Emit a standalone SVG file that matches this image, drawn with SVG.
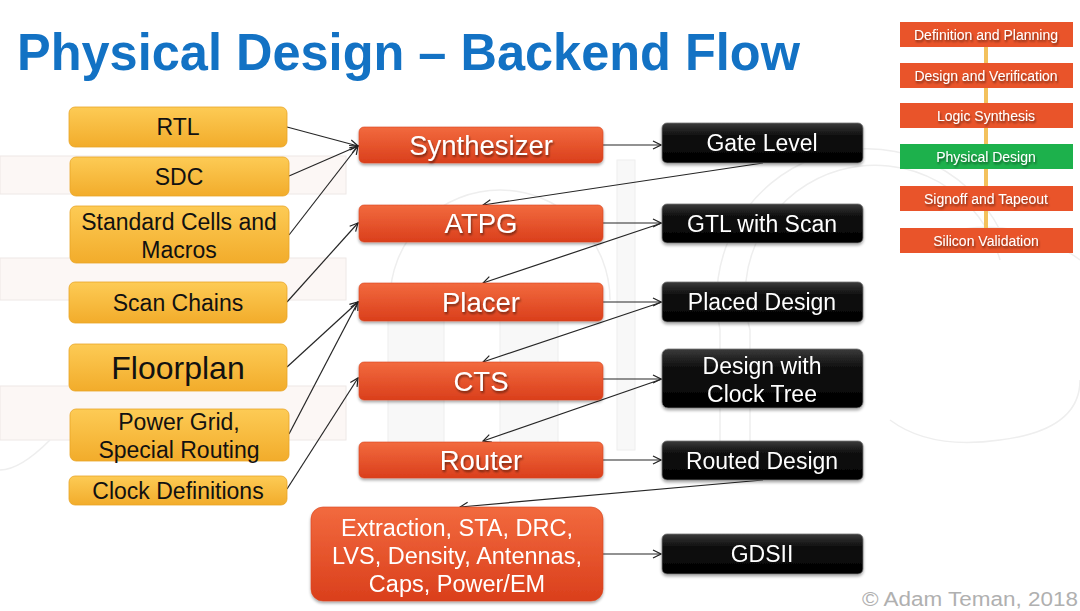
<svg xmlns="http://www.w3.org/2000/svg" width="1080" height="611" viewBox="0 0 1080 611">
<defs>
  <linearGradient id="gY" x1="0" y1="0" x2="0" y2="1">
    <stop offset="0" stop-color="#FDCB55"/>
    <stop offset="1" stop-color="#F2AC2B"/>
  </linearGradient>
  <linearGradient id="gR" x1="0" y1="0" x2="0" y2="1">
    <stop offset="0" stop-color="#F26A3E"/>
    <stop offset="1" stop-color="#DA3F1C"/>
  </linearGradient>
  <linearGradient id="gK" x1="0" y1="0" x2="0" y2="1">
    <stop offset="0" stop-color="#3a3a3a"/>
    <stop offset="0.3" stop-color="#111"/>
    <stop offset="1" stop-color="#000"/>
  </linearGradient>
  <filter id="sh" x="-10%" y="-20%" width="120%" height="150%">
    <feGaussianBlur in="SourceAlpha" stdDeviation="1.5"/>
    <feOffset dx="0" dy="2" result="b"/>
    <feComponentTransfer><feFuncA type="linear" slope="0.35"/></feComponentTransfer>
    <feMerge><feMergeNode/><feMergeNode in="SourceGraphic"/></feMerge>
  </filter>
  <filter id="ts" x="-10%" y="-20%" width="120%" height="150%">
    <feGaussianBlur in="SourceAlpha" stdDeviation="0.8"/>
    <feOffset dx="1" dy="1.5"/>
    <feComponentTransfer><feFuncA type="linear" slope="0.5"/></feComponentTransfer>
    <feMerge><feMergeNode/><feMergeNode in="SourceGraphic"/></feMerge>
  </filter>
  <marker id="ar" markerWidth="10" markerHeight="10" refX="9" refY="5" orient="auto" markerUnits="userSpaceOnUse">
    <path d="M1,1 L9,5 L1,9" fill="none" stroke="#222" stroke-width="1.2"/>
  </marker>
</defs>
<style>
  .t{font-family:"Liberation Sans",Arial,sans-serif;text-anchor:middle}
  .y{fill:url(#gY);stroke:#E9A526;stroke-width:0.8}
  .r{fill:url(#gR);stroke:#D8441F;stroke-width:0.6}
  .k{fill:url(#gK);stroke:#777;stroke-width:0.8}
  .ty{fill:#111;font-size:23px}
  .tf{fill:#111;font-size:32px}
  .tr{fill:#fff;font-size:27.5px}
  .tk{fill:#fff;font-size:23px}
  .tx{fill:#fff;font-size:23.5px}
  .sr{fill:#E9542A}
  .sg{fill:#1DB14C}
  .ts{fill:#fff;font-size:14px}
  .c{fill:none;stroke:#262626;stroke-width:1.2;marker-end:url(#ar)}
  .w{fill:#fcf7f5;stroke:#eee8e6;stroke-width:1}
  .wg{fill:#f8f8f8;stroke:#eeeeee;stroke-width:1}
  .wa{fill:none;stroke:#eeeeee;stroke-width:1.5}
</style>
<rect width="1080" height="611" fill="#fff"/>

<g id="watermark">
  <rect class="w" x="0" y="156" width="346" height="38"/>
  <rect class="w" x="0" y="258" width="346" height="42"/>
  <rect class="w" x="0" y="386" width="346" height="54"/>
  <path class="wa" d="M0,470 Q20,470 50,440"/>
  <rect class="wg" x="388" y="300" width="56" height="150"/>
  <rect class="wg" x="500" y="300" width="58" height="150"/>
  <rect class="wg" x="617" y="160" width="18" height="290"/>
  <path class="wa" d="M390,300 A110,110 0 0 1 610,300"/>
  <path class="wa" d="M720,450 L720,330 A150,150 0 0 1 1000,230"/>
  <path class="wa" d="M750,450 L750,330 A120,120 0 0 1 1000,260"/>
  <path class="wa" d="M890,420 Q930,450 1000,440 Q1080,430 1080,380"/>
  <path class="wa" d="M900,250 Q1000,200 1080,260"/>
</g>

<text x="17" y="70" font-family="'Liberation Sans',Arial,sans-serif" font-weight="bold" font-size="52" fill="#1372C4" textLength="783" lengthAdjust="spacingAndGlyphs">Physical Design – Backend Flow</text>

<g id="connectors">
  <line class="c" x1="287" y1="127" x2="358" y2="146"/>
  <line class="c" x1="289" y1="176" x2="358" y2="146"/>
  <line class="c" x1="289" y1="235" x2="358" y2="146"/>
  <line class="c" x1="287" y1="302" x2="358" y2="223"/>
  <line class="c" x1="287" y1="367" x2="358" y2="302"/>
  <line class="c" x1="289" y1="434" x2="358" y2="302"/>
  <line class="c" x1="287" y1="489" x2="358" y2="378"/>
  <line class="c" x1="603" y1="145" x2="661" y2="145"/>
  <line class="c" x1="763" y1="163" x2="483" y2="205"/>
  <line class="c" x1="603" y1="223" x2="661" y2="223"/>
  <line class="c" x1="662" y1="223" x2="483" y2="283"/>
  <line class="c" x1="603" y1="302" x2="661" y2="302"/>
  <line class="c" x1="662" y1="302" x2="483" y2="362"/>
  <line class="c" x1="603" y1="379" x2="661" y2="379"/>
  <line class="c" x1="662" y1="379" x2="483" y2="441"/>
  <line class="c" x1="603" y1="460" x2="661" y2="460"/>
  <line class="c" x1="763" y1="480" x2="460" y2="507"/>
  <line class="c" x1="603" y1="554" x2="661" y2="554"/>
</g>

<g id="n-rtl"><rect class="y" x="69" y="107" width="218" height="40" rx="6"/><text class="t ty" x="178" y="135">RTL</text></g>
<g id="n-sdc"><rect class="y" x="70" y="157" width="219" height="39" rx="6"/><text class="t ty" x="179" y="185">SDC</text></g>
<g id="n-std"><rect class="y" x="70" y="206" width="219" height="57" rx="6"/><text class="t ty" x="179" y="230">Standard Cells and</text><text class="t ty" x="179" y="258">Macros</text></g>
<g id="n-scan"><rect class="y" x="69" y="282" width="218" height="41" rx="6"/><text class="t ty" x="178" y="311">Scan Chains</text></g>
<g id="n-floor"><rect class="y" x="69" y="344" width="218" height="47" rx="6"/><text class="t tf" x="178" y="379">Floorplan</text></g>
<g id="n-power"><rect class="y" x="70" y="409" width="219" height="52" rx="6"/><text class="t ty" x="179" y="430">Power Grid,</text><text class="t ty" x="179" y="458">Special Routing</text></g>
<g id="n-clock"><rect class="y" x="69" y="476" width="218" height="29" rx="6"/><text class="t ty" x="178" y="499">Clock Definitions</text></g>

<g id="n-synth" filter="url(#sh)"><rect class="r" x="359" y="127" width="244" height="36" rx="5"/><text class="t tr" x="481" y="155" filter="url(#ts)">Synthesizer</text></g>
<g id="n-atpg" filter="url(#sh)"><rect class="r" x="359" y="205" width="244" height="37" rx="5"/><text class="t tr" x="481" y="233" filter="url(#ts)">ATPG</text></g>
<g id="n-placer" filter="url(#sh)"><rect class="r" x="359" y="283" width="244" height="38" rx="5"/><text class="t tr" x="481" y="312" filter="url(#ts)">Placer</text></g>
<g id="n-cts" filter="url(#sh)"><rect class="r" x="359" y="362" width="244" height="38" rx="5"/><text class="t tr" x="481" y="391" filter="url(#ts)">CTS</text></g>
<g id="n-router" filter="url(#sh)"><rect class="r" x="359" y="442" width="244" height="36" rx="5"/><text class="t tr" x="481" y="470" filter="url(#ts)">Router</text></g>
<g id="n-extract" filter="url(#sh)"><rect class="r" x="311" y="507" width="292" height="94" rx="12"/>
  <text class="t tx" x="457" y="536">Extraction, STA, DRC,</text>
  <text class="t tx" x="457" y="564">LVS, Density, Antennas,</text>
  <text class="t tx" x="457" y="592">Caps, Power/EM</text></g>

<g id="n-gate" filter="url(#sh)"><rect class="k" x="662" y="123" width="201" height="40" rx="5"/><text class="t tk" x="762" y="151">Gate Level</text></g>
<g id="n-gtl" filter="url(#sh)"><rect class="k" x="662" y="204" width="201" height="39" rx="5"/><text class="t tk" x="762" y="232">GTL with Scan</text></g>
<g id="n-placed" filter="url(#sh)"><rect class="k" x="662" y="282" width="201" height="40" rx="5"/><text class="t tk" x="762" y="310">Placed Design</text></g>
<g id="n-dwct" filter="url(#sh)"><rect class="k" x="662" y="349" width="201" height="59" rx="6"/><text class="t tk" x="762" y="374">Design with</text><text class="t tk" x="762" y="402">Clock Tree</text></g>
<g id="n-routed" filter="url(#sh)"><rect class="k" x="662" y="441" width="201" height="39" rx="5"/><text class="t tk" x="762" y="469">Routed Design</text></g>
<g id="n-gdsii" filter="url(#sh)"><rect class="k" x="662" y="534" width="201" height="40" rx="5"/><text class="t tk" x="762" y="562">GDSII</text></g>

<g id="miniflow">
  <g id="mini-connectors" fill="#F3C15C">
    <rect x="984" y="47" width="4" height="16"/>
    <rect x="984" y="88" width="4" height="15"/>
    <rect x="984" y="128" width="4" height="16"/>
    <rect x="984" y="169" width="4" height="17"/>
    <rect x="984" y="211" width="4" height="17"/>
  </g>
  <g id="m-def"><rect class="sr" x="900" y="22" width="173" height="25"/><text class="t ts" x="986" y="39.5" filter="url(#ts)">Definition and Planning</text></g>
  <g id="m-dv"><rect class="sr" x="900" y="63" width="173" height="25"/><text class="t ts" x="986" y="80.5" filter="url(#ts)">Design and Verification</text></g>
  <g id="m-ls"><rect class="sr" x="900" y="103" width="173" height="25"/><text class="t ts" x="986" y="120.5" filter="url(#ts)">Logic Synthesis</text></g>
  <g id="m-pd"><rect class="sg" x="900" y="144" width="173" height="25"/><text class="t ts" x="986" y="161.5" filter="url(#ts)">Physical Design</text></g>
  <g id="m-st"><rect class="sr" x="900" y="186" width="173" height="25"/><text class="t ts" x="986" y="203.5" filter="url(#ts)">Signoff and Tapeout</text></g>
  <g id="m-sv"><rect class="sr" x="900" y="228" width="173" height="25"/><text class="t ts" x="986" y="245.5" filter="url(#ts)">Silicon Validation</text></g>
</g>

<text x="862" y="606" font-family="'Liberation Sans',Arial,sans-serif" font-size="20" fill="#B0B0B0" textLength="216" lengthAdjust="spacingAndGlyphs">© Adam Teman, 2018</text>
</svg>
